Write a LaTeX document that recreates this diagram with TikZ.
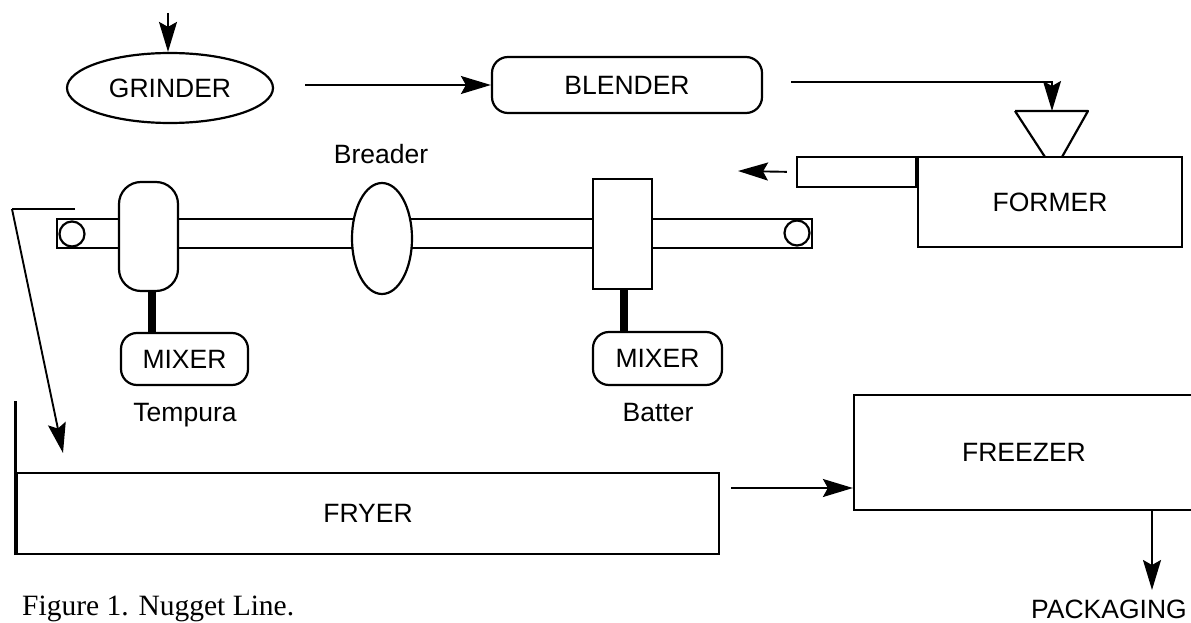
\documentclass[tikz,border=0pt]{standalone}
\usepackage{fontspec}
\setmainfont{Liberation Sans}
\newfontfamily\capfont{Liberation Serif}
\usetikzlibrary{arrows.meta,shapes.geometric}
\begin{document}
\begin{tikzpicture}[x=1pt,y=-1pt,
  lbl/.style={font=\fontsize{26.5}{30}\selectfont,inner sep=0pt},
  box/.style={draw,line width=2.2pt,inner sep=0pt,lbl},
  rbox/.style={box,rounded corners=16pt},
  arr/.style={line width=1.9pt,-{Stealth[length=30pt,width=18pt,inset=5pt]}},
  ln/.style={line width=2.2pt},
  stem/.style={line width=8pt},
  plain/.style={draw,line width=2.2pt,inner sep=0pt,fill=white}
]
\useasboundingbox (0,0) rectangle (1191,623);

% top row
\coordinate (in) at (168,13);
\node[box,ellipse,minimum width=206pt,minimum height=70pt] (grinder) at (170,88) {GRINDER};
\node[rbox,minimum width=270pt,minimum height=56pt] (blender) at (627,85) {BLENDER};
\draw[arr] (in) -- (in |- grinder.north);
\draw[arr,shorten <=31pt] (grinder.east |- blender.west) -- (blender.west);

% former and hopper
\node[box,minimum width=264pt,minimum height=90pt] (former) at (1050,202) {FORMER};
\node[plain,minimum width=121pt,minimum height=30pt] (slab) at (857.5,172) {};
\draw[line width=3.5pt] (former.north west) -- ++(0,30);
\coordinate (hop) at (1052,111);
\draw[ln,line join=round] (1015,111) -- (1088,111) -- (1062,157) (1045,157) -- (1015,111);
\draw[arr,shorten <=28pt] ([yshift=3pt]blender.east) -- ([yshift=3pt]blender.east -| hop) -- (hop);
\coordinate (beltin) at (738,171);
\draw[arr,shorten <=9pt] (slab.west) -- (beltin);

% belt
\node[plain,minimum width=755pt,minimum height=29pt] (belt) at (434.5,233.5) {};
\node[plain,circle,minimum size=25pt] (rollL) at (72,234) {};
\node[plain,circle,minimum size=25pt] (rollR) at (797,233) {};

% applicators
\node[plain,rounded corners=22pt,minimum width=59pt,minimum height=109pt] (tapp) at (148.5,236.5) {};
\node[plain,ellipse,minimum width=60pt,minimum height=111pt] (breader) at (382,238.5) {};
\node[lbl] (breaderlbl) at (381,154) {Breader};
\node[plain,minimum width=59pt,minimum height=110pt] (bapp) at (622.5,234) {};

% mixers
\node[rbox,minimum width=127pt,minimum height=52pt] (tmix) at (184.5,359) {MIXER};
\node[rbox,minimum width=129pt,minimum height=53pt] (bmix) at (657.5,358.5) {MIXER};
\draw[stem] ([xshift=3pt]tapp.south) -- ([xshift=3pt]tapp.south |- tmix.north);
\draw[stem] ([xshift=1.5pt]bapp.south) -- ([xshift=1.5pt]bapp.south |- bmix.north);
\node[lbl,anchor=base] (tlbl) at (185,421) {Tempura};
\node[lbl,anchor=base] (blbl) at (658,421) {Batter};

% fryer
\node[box,minimum width=702pt,minimum height=81pt] (fryer) at (368,513.5) {FRYER};
\draw[line width=3pt] (fryer.south west) -- ++(0,-154);
\coordinate (t1) at (75,209);
\coordinate (t2) at (12,209);
\coordinate (t3) at (63,453);
\draw[line width=1.2pt] (t1) -- (t2);
\draw[arr] (t2) -- (t3);

% freezer
\node[box,minimum width=340pt,minimum height=115pt] (freezer) at (1024,452.5) {FREEZER};
\coordinate (fz) at (0,488);
\draw[arr,shorten <=11pt] (fryer.east |- fz) -- (freezer.west |- fz);
\node[lbl,anchor=north west] (pack) at (1031,600) {PACKAGING};
\coordinate (px) at (1152,0);
\draw[arr,shorten >=10pt] (freezer.south -| px) -- (px |- pack.north);

% caption
\node[font=\capfont\fontsize{29.5}{34}\selectfont,anchor=base west,inner sep=0pt] (cap) at (22,615) {Figure 1. Nugget Line.};
\end{tikzpicture}
\end{document}
